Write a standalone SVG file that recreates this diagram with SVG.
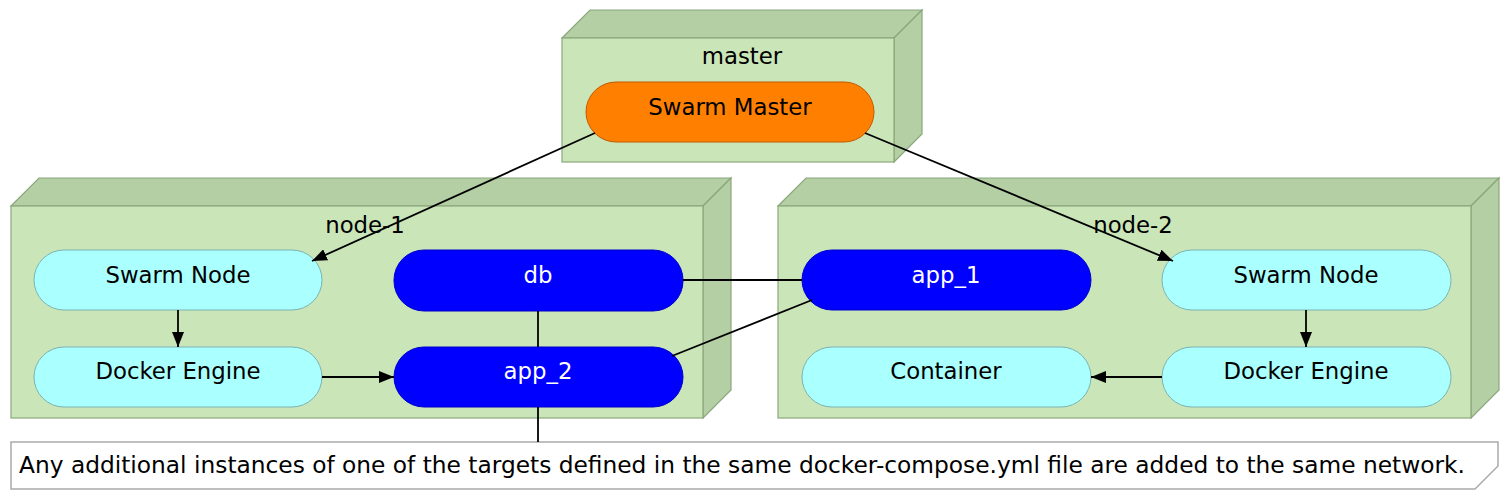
<svg xmlns="http://www.w3.org/2000/svg" width="1510" height="502" viewBox="0 0 1510 502">
<style>
text{font-family:"DejaVu Sans","Liberation Sans",sans-serif;font-size:22.8px;text-anchor:middle;fill:#000}
.front{fill:#cae5b8;stroke:#8aa77c;stroke-width:1.2}
.depth{fill:#b3cfa3;stroke:#8aa77c;stroke-width:1.2}
.cyan{fill:#aaffff;stroke:#7ab3b3;stroke-width:1}
.blue{fill:#0000ff;stroke:#0000cc;stroke-width:1}
.orange{fill:#ff8000;stroke:#c05a00;stroke-width:1}
.wt{fill:#fff}
.note{font-size:23.3px;text-anchor:start}
.edge{stroke:#000;stroke-width:1.8;fill:none}
</style>
<defs>
<marker id="arr" viewBox="0 0 15 12" refX="15" refY="6" markerWidth="15" markerHeight="12" markerUnits="userSpaceOnUse" orient="auto">
<path d="M0,0 L15,6 L0,12 Z" fill="#000"/>
</marker>
</defs>

<g id="master">
<polygon class="depth" points="562,38 590,10 922,10 894,38"/>
<polygon class="depth" points="894,38 922,10 922,134 894,162"/>
<rect class="front" x="562" y="38" width="332" height="124"/>
<text x="742" y="64">master</text>
</g>
<g id="node-1">
<polygon class="depth" points="11,206 39,178 731,178 703,206"/>
<polygon class="depth" points="703,206 731,178 731,390 703,418"/>
<rect class="front" x="11" y="206" width="692" height="212"/>
<text x="365" y="233">node-1</text>
</g>
<g id="node-2">
<polygon class="depth" points="778,206 806,178 1499,178 1471,206"/>
<polygon class="depth" points="1471,206 1499,178 1499,390 1471,418"/>
<rect class="front" x="778" y="206" width="693" height="212"/>
<text x="1133" y="233">node-2</text>
</g>

<g id="swarm-master">
<rect class="orange" x="586" y="82" width="288" height="60" rx="30"/>
<text x="730" y="115">Swarm Master</text>
</g>
<g id="swarm-node-1">
<rect class="cyan" x="34" y="250" width="288" height="60" rx="30"/>
<text x="178" y="283">Swarm Node</text>
</g>
<g id="docker-engine-1">
<rect class="cyan" x="34" y="347" width="288" height="60" rx="30"/>
<text x="178" y="379">Docker Engine</text>
</g>
<g id="db">
<rect class="blue" x="394" y="250" width="289" height="61" rx="30"/>
<text class="wt" x="538" y="283">db</text>
</g>
<g id="app_2">
<rect class="blue" x="394" y="347" width="289" height="60" rx="30"/>
<text class="wt" x="538" y="379">app_2</text>
</g>
<g id="app_1">
<rect class="blue" x="802" y="250" width="289" height="60" rx="30"/>
<text class="wt" x="946" y="283">app_1</text>
</g>
<g id="container">
<rect class="cyan" x="802" y="347" width="289" height="60" rx="30"/>
<text x="946" y="379">Container</text>
</g>
<g id="swarm-node-2">
<rect class="cyan" x="1162" y="250" width="289" height="60" rx="30"/>
<text x="1306" y="283">Swarm Node</text>
</g>
<g id="docker-engine-2">
<rect class="cyan" x="1162" y="347" width="289" height="60" rx="30"/>
<text x="1306" y="379">Docker Engine</text>
</g>

<g id="note">
<polygon points="11,442 1498,442 1498,466 1475,489 11,489" fill="#fff" stroke="#aaaaaa" stroke-width="1.5"/>
<text class="note" x="19" y="473">Any additional instances of one of the targets defined in the same docker-compose.yml file are added to the same network.</text>
</g>

<g id="connectors">
<line class="edge" x1="595" y1="133" x2="312" y2="261" marker-end="url(#arr)"/>
<line class="edge" x1="865" y1="133" x2="1173" y2="261" marker-end="url(#arr)"/>
<line class="edge" x1="178" y1="310" x2="178" y2="347" marker-end="url(#arr)"/>
<line class="edge" x1="322" y1="377" x2="394" y2="377" marker-end="url(#arr)"/>
<line class="edge" x1="1162" y1="377" x2="1091" y2="377" marker-end="url(#arr)"/>
<line class="edge" x1="1306" y1="310" x2="1306" y2="347" marker-end="url(#arr)"/>
<line class="edge" x1="538" y1="311" x2="538" y2="347"/>
<line class="edge" x1="538" y1="407" x2="538" y2="442"/>
<line class="edge" x1="683" y1="280" x2="802" y2="280"/>
<line class="edge" x1="672" y1="356" x2="812" y2="300"/>
</g>
</svg>
